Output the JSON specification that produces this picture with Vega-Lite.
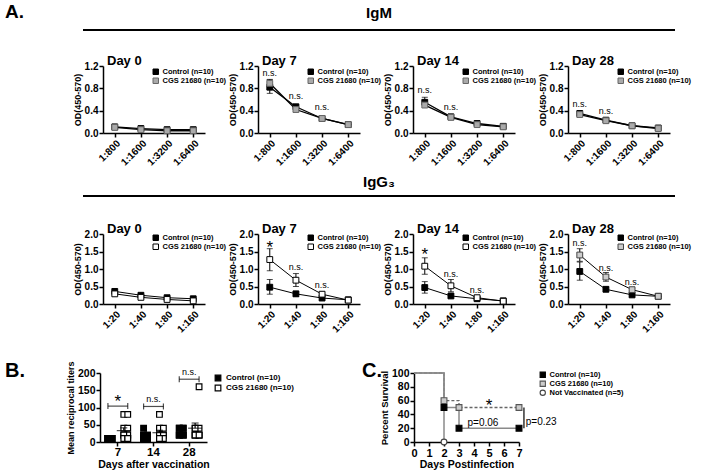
{
  "$schema": "https://vega.github.io/schema/vega-lite/v6.json",
  "background": "white",
  "padding": {"left": 5, "top": 3, "right": 5, "bottom": 5},
  "config": {
    "font": "Liberation Sans",
    "view": {"stroke": null},
    "point": {"opacity": 1},
    "title": {"font": "Liberation Sans", "fontWeight": "bold", "color": "black"},
    "axis": {"domainColor": "black", "domainWidth": 1.5, "tickColor": "black", "tickWidth": 1.5, "tickSize": 4, "labelColor": "black", "labelFont": "Liberation Sans", "labelFontWeight": "bold", "labelFontSize": 10, "labelPadding": 1, "titleFont": "Liberation Sans", "titleFontSize": 9, "titleFontWeight": "bold", "titleColor": "black", "titlePadding": 2, "grid": false, "labelFlush": false, "labelOverlap": false},
    "legend": {"labelFont": "Liberation Sans", "labelColor": "black", "labelFontWeight": "bold", "title": null}
  },
  "datasets": {
    "igm": [
      {"day": "Day 0", "dil": "1:800", "grp": "Control (n=10)", "od": 0.11, "lo": 0.11, "hi": 0.11},
      {"day": "Day 0", "dil": "1:1600", "grp": "Control (n=10)", "od": 0.08, "lo": 0.08, "hi": 0.08},
      {"day": "Day 0", "dil": "1:3200", "grp": "Control (n=10)", "od": 0.06, "lo": 0.06, "hi": 0.06},
      {"day": "Day 0", "dil": "1:6400", "grp": "Control (n=10)", "od": 0.06, "lo": 0.06, "hi": 0.06},
      {"day": "Day 0", "dil": "1:800", "grp": "CGS 21680 (n=10)", "od": 0.10, "lo": 0.10, "hi": 0.10},
      {"day": "Day 0", "dil": "1:1600", "grp": "CGS 21680 (n=10)", "od": 0.06, "lo": 0.06, "hi": 0.06},
      {"day": "Day 0", "dil": "1:3200", "grp": "CGS 21680 (n=10)", "od": 0.04, "lo": 0.04, "hi": 0.04},
      {"day": "Day 0", "dil": "1:6400", "grp": "CGS 21680 (n=10)", "od": 0.04, "lo": 0.04, "hi": 0.04},
      {"day": "Day 7", "dil": "1:800", "grp": "Control (n=10)", "od": 0.82, "lo": 0.71, "hi": 0.95},
      {"day": "Day 7", "dil": "1:1600", "grp": "Control (n=10)", "od": 0.47, "lo": 0.43, "hi": 0.51},
      {"day": "Day 7", "dil": "1:3200", "grp": "Control (n=10)", "od": 0.26, "lo": 0.24, "hi": 0.28},
      {"day": "Day 7", "dil": "1:6400", "grp": "Control (n=10)", "od": 0.15, "lo": 0.15, "hi": 0.15},
      {"day": "Day 7", "dil": "1:800", "grp": "CGS 21680 (n=10)", "od": 0.89, "lo": 0.83, "hi": 0.96},
      {"day": "Day 7", "dil": "1:1600", "grp": "CGS 21680 (n=10)", "od": 0.42, "lo": 0.39, "hi": 0.45},
      {"day": "Day 7", "dil": "1:3200", "grp": "CGS 21680 (n=10)", "od": 0.26, "lo": 0.26, "hi": 0.26},
      {"day": "Day 7", "dil": "1:6400", "grp": "CGS 21680 (n=10)", "od": 0.15, "lo": 0.15, "hi": 0.15},
      {"day": "Day 14", "dil": "1:800", "grp": "Control (n=10)", "od": 0.55, "lo": 0.48, "hi": 0.64},
      {"day": "Day 14", "dil": "1:1600", "grp": "Control (n=10)", "od": 0.29, "lo": 0.27, "hi": 0.31},
      {"day": "Day 14", "dil": "1:3200", "grp": "Control (n=10)", "od": 0.17, "lo": 0.16, "hi": 0.18},
      {"day": "Day 14", "dil": "1:6400", "grp": "Control (n=10)", "od": 0.12, "lo": 0.12, "hi": 0.12},
      {"day": "Day 14", "dil": "1:800", "grp": "CGS 21680 (n=10)", "od": 0.50, "lo": 0.46, "hi": 0.54},
      {"day": "Day 14", "dil": "1:1600", "grp": "CGS 21680 (n=10)", "od": 0.28, "lo": 0.28, "hi": 0.28},
      {"day": "Day 14", "dil": "1:3200", "grp": "CGS 21680 (n=10)", "od": 0.15, "lo": 0.15, "hi": 0.15},
      {"day": "Day 14", "dil": "1:6400", "grp": "CGS 21680 (n=10)", "od": 0.11, "lo": 0.11, "hi": 0.11},
      {"day": "Day 28", "dil": "1:800", "grp": "Control (n=10)", "od": 0.35, "lo": 0.31, "hi": 0.39},
      {"day": "Day 28", "dil": "1:1600", "grp": "Control (n=10)", "od": 0.23, "lo": 0.21, "hi": 0.25},
      {"day": "Day 28", "dil": "1:3200", "grp": "Control (n=10)", "od": 0.13, "lo": 0.13, "hi": 0.13},
      {"day": "Day 28", "dil": "1:6400", "grp": "Control (n=10)", "od": 0.09, "lo": 0.09, "hi": 0.09},
      {"day": "Day 28", "dil": "1:800", "grp": "CGS 21680 (n=10)", "od": 0.33, "lo": 0.30, "hi": 0.36},
      {"day": "Day 28", "dil": "1:1600", "grp": "CGS 21680 (n=10)", "od": 0.22, "lo": 0.22, "hi": 0.22},
      {"day": "Day 28", "dil": "1:3200", "grp": "CGS 21680 (n=10)", "od": 0.13, "lo": 0.13, "hi": 0.13},
      {"day": "Day 28", "dil": "1:6400", "grp": "CGS 21680 (n=10)", "od": 0.08, "lo": 0.08, "hi": 0.08}
    ],
    "igg": [
      {"day": "Day 0", "dil": "1:20", "grp": "Control (n=10)", "od": 0.36, "lo": 0.33, "hi": 0.39},
      {"day": "Day 0", "dil": "1:40", "grp": "Control (n=10)", "od": 0.25, "lo": 0.23, "hi": 0.27},
      {"day": "Day 0", "dil": "1:80", "grp": "Control (n=10)", "od": 0.18, "lo": 0.17, "hi": 0.19},
      {"day": "Day 0", "dil": "1:160", "grp": "Control (n=10)", "od": 0.15, "lo": 0.15, "hi": 0.15},
      {"day": "Day 0", "dil": "1:20", "grp": "CGS 21680 (n=10)", "od": 0.29, "lo": 0.27, "hi": 0.31},
      {"day": "Day 0", "dil": "1:40", "grp": "CGS 21680 (n=10)", "od": 0.19, "lo": 0.18, "hi": 0.20},
      {"day": "Day 0", "dil": "1:80", "grp": "CGS 21680 (n=10)", "od": 0.13, "lo": 0.13, "hi": 0.13},
      {"day": "Day 0", "dil": "1:160", "grp": "CGS 21680 (n=10)", "od": 0.09, "lo": 0.09, "hi": 0.09},
      {"day": "Day 7", "dil": "1:20", "grp": "Control (n=10)", "od": 0.48, "lo": 0.28, "hi": 0.70},
      {"day": "Day 7", "dil": "1:40", "grp": "Control (n=10)", "od": 0.29, "lo": 0.22, "hi": 0.36},
      {"day": "Day 7", "dil": "1:80", "grp": "Control (n=10)", "od": 0.17, "lo": 0.14, "hi": 0.20},
      {"day": "Day 7", "dil": "1:160", "grp": "Control (n=10)", "od": 0.12, "lo": 0.12, "hi": 0.12},
      {"day": "Day 7", "dil": "1:20", "grp": "CGS 21680 (n=10)", "od": 1.27, "lo": 0.95, "hi": 1.58},
      {"day": "Day 7", "dil": "1:40", "grp": "CGS 21680 (n=10)", "od": 0.68, "lo": 0.50, "hi": 0.87},
      {"day": "Day 7", "dil": "1:80", "grp": "CGS 21680 (n=10)", "od": 0.28, "lo": 0.25, "hi": 0.31},
      {"day": "Day 7", "dil": "1:160", "grp": "CGS 21680 (n=10)", "od": 0.11, "lo": 0.11, "hi": 0.11},
      {"day": "Day 14", "dil": "1:20", "grp": "Control (n=10)", "od": 0.47, "lo": 0.31, "hi": 0.64},
      {"day": "Day 14", "dil": "1:40", "grp": "Control (n=10)", "od": 0.23, "lo": 0.20, "hi": 0.26},
      {"day": "Day 14", "dil": "1:80", "grp": "Control (n=10)", "od": 0.15, "lo": 0.14, "hi": 0.16},
      {"day": "Day 14", "dil": "1:160", "grp": "Control (n=10)", "od": 0.09, "lo": 0.09, "hi": 0.09},
      {"day": "Day 14", "dil": "1:20", "grp": "CGS 21680 (n=10)", "od": 1.08, "lo": 0.85, "hi": 1.32},
      {"day": "Day 14", "dil": "1:40", "grp": "CGS 21680 (n=10)", "od": 0.52, "lo": 0.35, "hi": 0.70},
      {"day": "Day 14", "dil": "1:80", "grp": "CGS 21680 (n=10)", "od": 0.18, "lo": 0.15, "hi": 0.21},
      {"day": "Day 14", "dil": "1:160", "grp": "CGS 21680 (n=10)", "od": 0.08, "lo": 0.08, "hi": 0.08},
      {"day": "Day 28", "dil": "1:20", "grp": "Control (n=10)", "od": 0.93, "lo": 0.68, "hi": 1.20},
      {"day": "Day 28", "dil": "1:40", "grp": "Control (n=10)", "od": 0.42, "lo": 0.36, "hi": 0.48},
      {"day": "Day 28", "dil": "1:80", "grp": "Control (n=10)", "od": 0.26, "lo": 0.23, "hi": 0.29},
      {"day": "Day 28", "dil": "1:160", "grp": "Control (n=10)", "od": 0.22, "lo": 0.22, "hi": 0.22},
      {"day": "Day 28", "dil": "1:20", "grp": "CGS 21680 (n=10)", "od": 1.40, "lo": 1.22, "hi": 1.58},
      {"day": "Day 28", "dil": "1:40", "grp": "CGS 21680 (n=10)", "od": 0.77, "lo": 0.65, "hi": 0.90},
      {"day": "Day 28", "dil": "1:80", "grp": "CGS 21680 (n=10)", "od": 0.41, "lo": 0.37, "hi": 0.45},
      {"day": "Day 28", "dil": "1:160", "grp": "CGS 21680 (n=10)", "od": 0.22, "lo": 0.22, "hi": 0.22}
    ],
    "ann": [
      {"ab": "IgM", "day": "Day 7", "dil": "1:800", "od": 1.07, "label": "n.s."},
      {"ab": "IgM", "day": "Day 7", "dil": "1:1600", "od": 0.66, "label": "n.s."},
      {"ab": "IgM", "day": "Day 7", "dil": "1:3200", "od": 0.46, "label": "n.s."},
      {"ab": "IgM", "day": "Day 14", "dil": "1:800", "od": 0.77, "label": "n.s."},
      {"ab": "IgM", "day": "Day 14", "dil": "1:1600", "od": 0.47, "label": "n.s."},
      {"ab": "IgM", "day": "Day 28", "dil": "1:800", "od": 0.52, "label": "n.s."},
      {"ab": "IgM", "day": "Day 28", "dil": "1:1600", "od": 0.40, "label": "n.s."},
      {"ab": "IgG", "day": "Day 7", "dil": "1:20", "od": 1.72, "label": "*"},
      {"ab": "IgG", "day": "Day 7", "dil": "1:40", "od": 1.05, "label": "n.s."},
      {"ab": "IgG", "day": "Day 7", "dil": "1:80", "od": 0.53, "label": "n.s."},
      {"ab": "IgG", "day": "Day 14", "dil": "1:20", "od": 1.52, "label": "*"},
      {"ab": "IgG", "day": "Day 14", "dil": "1:40", "od": 0.86, "label": "n.s."},
      {"ab": "IgG", "day": "Day 14", "dil": "1:80", "od": 0.41, "label": "n.s."},
      {"ab": "IgG", "day": "Day 28", "dil": "1:20", "od": 1.73, "label": "n.s."},
      {"ab": "IgG", "day": "Day 28", "dil": "1:40", "od": 1.02, "label": "n.s."},
      {"ab": "IgG", "day": "Day 28", "dil": "1:80", "od": 0.62, "label": "n.s."}
    ],
    "titers": [
      {"day": "7", "grp": "Control (n=10)", "slot": "c2", "v": 10},
      {"day": "7", "grp": "Control (n=10)", "slot": "c3", "v": 10},
      {"day": "7", "grp": "Control (n=10)", "slot": "c2", "v": 10},
      {"day": "7", "grp": "Control (n=10)", "slot": "c3", "v": 10},
      {"day": "7", "grp": "Control (n=10)", "slot": "c2", "v": 10},
      {"day": "7", "grp": "Control (n=10)", "slot": "c3", "v": 10},
      {"day": "7", "grp": "Control (n=10)", "slot": "c2", "v": 10},
      {"day": "7", "grp": "Control (n=10)", "slot": "c3", "v": 10},
      {"day": "7", "grp": "Control (n=10)", "slot": "c2", "v": 10},
      {"day": "7", "grp": "Control (n=10)", "slot": "c3", "v": 10},
      {"day": "7", "grp": "CGS 21680 (n=10)", "slot": "g2", "v": 80},
      {"day": "7", "grp": "CGS 21680 (n=10)", "slot": "g3", "v": 80},
      {"day": "7", "grp": "CGS 21680 (n=10)", "slot": "g2", "v": 40},
      {"day": "7", "grp": "CGS 21680 (n=10)", "slot": "g3", "v": 40},
      {"day": "7", "grp": "CGS 21680 (n=10)", "slot": "g2", "v": 20},
      {"day": "7", "grp": "CGS 21680 (n=10)", "slot": "g3", "v": 20},
      {"day": "7", "grp": "CGS 21680 (n=10)", "slot": "g2", "v": 20},
      {"day": "7", "grp": "CGS 21680 (n=10)", "slot": "g2", "v": 10},
      {"day": "7", "grp": "CGS 21680 (n=10)", "slot": "g3", "v": 10},
      {"day": "7", "grp": "CGS 21680 (n=10)", "slot": "g3", "v": 10},
      {"day": "14", "grp": "Control (n=10)", "slot": "c2", "v": 40},
      {"day": "14", "grp": "Control (n=10)", "slot": "c2", "v": 20},
      {"day": "14", "grp": "Control (n=10)", "slot": "c3", "v": 20},
      {"day": "14", "grp": "Control (n=10)", "slot": "c2", "v": 20},
      {"day": "14", "grp": "Control (n=10)", "slot": "c3", "v": 20},
      {"day": "14", "grp": "Control (n=10)", "slot": "c2", "v": 10},
      {"day": "14", "grp": "Control (n=10)", "slot": "c3", "v": 10},
      {"day": "14", "grp": "Control (n=10)", "slot": "c2", "v": 10},
      {"day": "14", "grp": "Control (n=10)", "slot": "c3", "v": 10},
      {"day": "14", "grp": "Control (n=10)", "slot": "c2", "v": 10},
      {"day": "14", "grp": "CGS 21680 (n=10)", "slot": "g2", "v": 80},
      {"day": "14", "grp": "CGS 21680 (n=10)", "slot": "g2", "v": 40},
      {"day": "14", "grp": "CGS 21680 (n=10)", "slot": "g3", "v": 40},
      {"day": "14", "grp": "CGS 21680 (n=10)", "slot": "g2", "v": 20},
      {"day": "14", "grp": "CGS 21680 (n=10)", "slot": "g3", "v": 20},
      {"day": "14", "grp": "CGS 21680 (n=10)", "slot": "g2", "v": 20},
      {"day": "14", "grp": "CGS 21680 (n=10)", "slot": "g3", "v": 20},
      {"day": "14", "grp": "CGS 21680 (n=10)", "slot": "g2", "v": 10},
      {"day": "14", "grp": "CGS 21680 (n=10)", "slot": "g3", "v": 10},
      {"day": "14", "grp": "CGS 21680 (n=10)", "slot": "g2", "v": 10},
      {"day": "28", "grp": "Control (n=10)", "slot": "c2", "v": 40},
      {"day": "28", "grp": "Control (n=10)", "slot": "c3", "v": 40},
      {"day": "28", "grp": "Control (n=10)", "slot": "c2", "v": 40},
      {"day": "28", "grp": "Control (n=10)", "slot": "c3", "v": 40},
      {"day": "28", "grp": "Control (n=10)", "slot": "c2", "v": 20},
      {"day": "28", "grp": "Control (n=10)", "slot": "c3", "v": 20},
      {"day": "28", "grp": "Control (n=10)", "slot": "c2", "v": 20},
      {"day": "28", "grp": "Control (n=10)", "slot": "c3", "v": 20},
      {"day": "28", "grp": "Control (n=10)", "slot": "c2", "v": 20},
      {"day": "28", "grp": "Control (n=10)", "slot": "c3", "v": 20},
      {"day": "28", "grp": "CGS 21680 (n=10)", "slot": "g3", "v": 160},
      {"day": "28", "grp": "CGS 21680 (n=10)", "slot": "g2", "v": 40},
      {"day": "28", "grp": "CGS 21680 (n=10)", "slot": "g3", "v": 40},
      {"day": "28", "grp": "CGS 21680 (n=10)", "slot": "g2", "v": 40},
      {"day": "28", "grp": "CGS 21680 (n=10)", "slot": "g2", "v": 20},
      {"day": "28", "grp": "CGS 21680 (n=10)", "slot": "g3", "v": 20},
      {"day": "28", "grp": "CGS 21680 (n=10)", "slot": "g2", "v": 20},
      {"day": "28", "grp": "CGS 21680 (n=10)", "slot": "g3", "v": 20},
      {"day": "28", "grp": "CGS 21680 (n=10)", "slot": "g2", "v": 20},
      {"day": "28", "grp": "CGS 21680 (n=10)", "slot": "g3", "v": 20}
    ],
    "tstats": [
      {"day": "7", "slot": "g2", "mean": 33, "hi": 41},
      {"day": "14", "slot": "g2", "mean": 27, "hi": 34},
      {"day": "28", "slot": "g2", "mean": 40, "hi": 55}
    ],
    "tbr": [
      {"day": "7", "y": 104, "ty": 128, "label": "*"},
      {"day": "14", "y": 103, "ty": 117, "label": "n.s."},
      {"day": "28", "y": 182, "ty": 195, "label": "n.s."}
    ],
    "tcaps": [
      {"day": "7", "y": 104, "slot": "c2"},
      {"day": "7", "y": 104, "slot": "g3"},
      {"day": "14", "y": 103, "slot": "c2"},
      {"day": "14", "y": 103, "slot": "g3"},
      {"day": "28", "y": 182, "slot": "c2"},
      {"day": "28", "y": 182, "slot": "g3"}
    ],
    "surv": [
      {"grp": "Control (n=10)", "d": 0, "pct": 100},
      {"grp": "Control (n=10)", "d": 2, "pct": 50},
      {"grp": "Control (n=10)", "d": 3, "pct": 20},
      {"grp": "Control (n=10)", "d": 7, "pct": 20},
      {"grp": "CGS 21680 (n=10)", "d": 0, "pct": 100},
      {"grp": "CGS 21680 (n=10)", "d": 2, "pct": 60},
      {"grp": "CGS 21680 (n=10)", "d": 3, "pct": 50},
      {"grp": "CGS 21680 (n=10)", "d": 7, "pct": 50},
      {"grp": "Not Vaccinated (n=5)", "d": 0, "pct": 100},
      {"grp": "Not Vaccinated (n=5)", "d": 2, "pct": 0}
    ],
    "survpts": [
      {"grp": "Control (n=10)", "d": 2, "pct": 50},
      {"grp": "Control (n=10)", "d": 3, "pct": 20},
      {"grp": "Control (n=10)", "d": 7, "pct": 20},
      {"grp": "CGS 21680 (n=10)", "d": 2, "pct": 60},
      {"grp": "CGS 21680 (n=10)", "d": 3, "pct": 50},
      {"grp": "CGS 21680 (n=10)", "d": 7, "pct": 50},
      {"grp": "Not Vaccinated (n=5)", "d": 2, "pct": 0}
    ],
    "sann": [
      {"d": 5, "pct": 58, "label": "*"},
      {"d": 4.6, "pct": 28, "label": "p=0.06"},
      {"d": 7.45, "pct": 29, "label": "p=0.23"}
    ],
    "sbr": [
      {"d": 7.33, "lo": 20, "hi": 50}
    ]
  },
  "spacing": 3,
  "resolve": {"scale": {"fill": "independent", "stroke": "independent", "shape": "independent"}, "legend": {"fill": "independent", "stroke": "independent", "shape": "independent"}},
  "vconcat": [
    {
      "spacing": 0, "bounds": "flush",
      "hconcat": [
        {"width": 78, "height": 22, "title": {"text": "A.", "anchor": "start", "frame": "group", "fontSize": 19, "baseline": "alphabetic", "offset": -7}, "data": {"values": []}, "mark": "point"},
        {"width": 592, "height": 22, "title": {"text": "IgM", "anchor": "middle", "fontSize": 15, "baseline": "alphabetic", "offset": -4}, "data": {"values": [{"k": 1}]}, "mark": {"type": "rule", "color": "black", "strokeWidth": 2}, "encoding": {"y": {"datum": 1, "type": "quantitative", "scale": {"domain": [0, 1]}, "axis": null}}}
      ]
    },
    {
      "spacing": 53, "bounds": "flush",
      "resolve": {"scale": {"fill": "independent", "stroke": "independent"}, "legend": {"fill": "independent", "stroke": "independent"}},
      "hconcat": [
        {"width": 45, "height": 105.5, "data": {"values": []}, "mark": "point"},
        {
          "width": 102, "height": 67,
          "title": {"text": "Day 0", "anchor": "start", "frame": "group", "fontSize": 13, "baseline": "alphabetic", "offset": -17, "dx": 4},
          "data": {"name": "igm"},
          "transform": [{"filter": "datum.day === 'Day 0'"}],
          "encoding": {
            "x": {"field": "dil", "type": "ordinal", "sort": ["1:800", "1:1600", "1:3200", "1:6400"], "scale": {"type": "point", "padding": 0.45}, "axis": {"title": null, "labelAngle": -45}},
            "y": {"field": "od", "type": "quantitative", "title": "OD(450-570)", "scale": {"domain": [0, 1.2], "nice": false}, "axis": {"values": [0, 0.4, 0.8, 1.2], "format": ".1f"}}
          },
          "layer": [
            {"mark": {"type": "line", "strokeWidth": 1.3, "color": "black"}, "encoding": {"detail": {"field": "grp"}}},
            {"mark": {"type": "point", "shape": "square", "filled": true, "size": 34, "opacity": 1, "strokeWidth": 1}, "encoding": {
              "fill": {"field": "grp", "type": "nominal", "scale": {"domain": ["Control (n=10)", "CGS 21680 (n=10)"], "range": ["black", "#aaaaaa"]}, "legend": {"orient": "none", "legendX": 49, "legendY": 2, "labelFontSize": 7.5, "symbolSize": 30, "symbolStrokeWidth": 1, "rowPadding": -1, "labelOffset": 3}},
              "stroke": {"field": "grp", "type": "nominal", "scale": {"domain": ["Control (n=10)", "CGS 21680 (n=10)"], "range": ["black", "#666666"]}, "legend": {"orient": "none", "legendX": 49, "legendY": 2, "labelFontSize": 7.5, "symbolSize": 30, "symbolStrokeWidth": 1, "rowPadding": -1, "labelOffset": 3}}
            }}
          ]
        },
        {
          "width": 102, "height": 67,
          "title": {"text": "Day 7", "anchor": "start", "frame": "group", "fontSize": 13, "baseline": "alphabetic", "offset": -17, "dx": 4},
          "data": {"name": "igm"},
          "transform": [{"filter": "datum.day === 'Day 7'"}],
          "encoding": {
            "x": {"field": "dil", "type": "ordinal", "sort": ["1:800", "1:1600", "1:3200", "1:6400"], "scale": {"type": "point", "padding": 0.45}, "axis": {"title": null, "labelAngle": -45}},
            "y": {"field": "od", "type": "quantitative", "title": "OD(450-570)", "scale": {"domain": [0, 1.2], "nice": false}, "axis": {"values": [0, 0.4, 0.8, 1.2], "format": ".1f"}}
          },
          "layer": [
            {"mark": {"type": "rule", "color": "black", "strokeWidth": 1}, "encoding": {"y": {"field": "lo", "type": "quantitative", "title": "OD(450-570)", "scale": {"domain": [0, 1.2], "nice": false}, "axis": {"values": [0, 0.4, 0.8, 1.2], "format": ".1f"}}, "y2": {"field": "hi"}}},
            {"mark": {"type": "tick", "color": "black", "thickness": 1, "size": 6}, "encoding": {"y": {"field": "hi", "type": "quantitative", "title": "OD(450-570)", "scale": {"domain": [0, 1.2], "nice": false}, "axis": {"values": [0, 0.4, 0.8, 1.2], "format": ".1f"}}}},
            {"mark": {"type": "tick", "color": "black", "thickness": 1, "size": 6}, "encoding": {"y": {"field": "lo", "type": "quantitative", "title": "OD(450-570)", "scale": {"domain": [0, 1.2], "nice": false}, "axis": {"values": [0, 0.4, 0.8, 1.2], "format": ".1f"}}}},
            {"mark": {"type": "line", "strokeWidth": 1.3, "color": "black"}, "encoding": {"detail": {"field": "grp"}}},
            {"mark": {"type": "point", "shape": "square", "filled": true, "size": 34, "opacity": 1, "strokeWidth": 1}, "encoding": {
              "fill": {"field": "grp", "type": "nominal", "scale": {"domain": ["Control (n=10)", "CGS 21680 (n=10)"], "range": ["black", "#aaaaaa"]}, "legend": {"orient": "none", "legendX": 49, "legendY": 2, "labelFontSize": 7.5, "symbolSize": 30, "symbolStrokeWidth": 1, "rowPadding": -1, "labelOffset": 3}},
              "stroke": {"field": "grp", "type": "nominal", "scale": {"domain": ["Control (n=10)", "CGS 21680 (n=10)"], "range": ["black", "#666666"]}, "legend": {"orient": "none", "legendX": 49, "legendY": 2, "labelFontSize": 7.5, "symbolSize": 30, "symbolStrokeWidth": 1, "rowPadding": -1, "labelOffset": 3}}
            }},
            {"data": {"name": "ann"}, "transform": [{"filter": "datum.ab === 'IgM' && datum.day === 'Day 7'"}], "mark": {"type": "text", "font": "Liberation Sans", "baseline": "middle", "color": "black", "fontSize": 9}, "encoding": {"text": {"field": "label"}}}
          ]
        },
        {
          "width": 102, "height": 67,
          "title": {"text": "Day 14", "anchor": "start", "frame": "group", "fontSize": 13, "baseline": "alphabetic", "offset": -17, "dx": 4},
          "data": {"name": "igm"},
          "transform": [{"filter": "datum.day === 'Day 14'"}],
          "encoding": {
            "x": {"field": "dil", "type": "ordinal", "sort": ["1:800", "1:1600", "1:3200", "1:6400"], "scale": {"type": "point", "padding": 0.45}, "axis": {"title": null, "labelAngle": -45}},
            "y": {"field": "od", "type": "quantitative", "title": "OD(450-570)", "scale": {"domain": [0, 1.2], "nice": false}, "axis": {"values": [0, 0.4, 0.8, 1.2], "format": ".1f"}}
          },
          "layer": [
            {"mark": {"type": "rule", "color": "black", "strokeWidth": 1}, "encoding": {"y": {"field": "lo", "type": "quantitative", "title": "OD(450-570)", "scale": {"domain": [0, 1.2], "nice": false}, "axis": {"values": [0, 0.4, 0.8, 1.2], "format": ".1f"}}, "y2": {"field": "hi"}}},
            {"mark": {"type": "tick", "color": "black", "thickness": 1, "size": 6}, "encoding": {"y": {"field": "hi", "type": "quantitative", "title": "OD(450-570)", "scale": {"domain": [0, 1.2], "nice": false}, "axis": {"values": [0, 0.4, 0.8, 1.2], "format": ".1f"}}}},
            {"mark": {"type": "line", "strokeWidth": 1.3, "color": "black"}, "encoding": {"detail": {"field": "grp"}}},
            {"mark": {"type": "point", "shape": "square", "filled": true, "size": 34, "opacity": 1, "strokeWidth": 1}, "encoding": {
              "fill": {"field": "grp", "type": "nominal", "scale": {"domain": ["Control (n=10)", "CGS 21680 (n=10)"], "range": ["black", "#aaaaaa"]}, "legend": {"orient": "none", "legendX": 49, "legendY": 2, "labelFontSize": 7.5, "symbolSize": 30, "symbolStrokeWidth": 1, "rowPadding": -1, "labelOffset": 3}},
              "stroke": {"field": "grp", "type": "nominal", "scale": {"domain": ["Control (n=10)", "CGS 21680 (n=10)"], "range": ["black", "#666666"]}, "legend": {"orient": "none", "legendX": 49, "legendY": 2, "labelFontSize": 7.5, "symbolSize": 30, "symbolStrokeWidth": 1, "rowPadding": -1, "labelOffset": 3}}
            }},
            {"data": {"name": "ann"}, "transform": [{"filter": "datum.ab === 'IgM' && datum.day === 'Day 14'"}], "mark": {"type": "text", "font": "Liberation Sans", "baseline": "middle", "color": "black", "fontSize": 9}, "encoding": {"text": {"field": "label"}}}
          ]
        },
        {
          "width": 102, "height": 67,
          "title": {"text": "Day 28", "anchor": "start", "frame": "group", "fontSize": 13, "baseline": "alphabetic", "offset": -17, "dx": 4},
          "data": {"name": "igm"},
          "transform": [{"filter": "datum.day === 'Day 28'"}],
          "encoding": {
            "x": {"field": "dil", "type": "ordinal", "sort": ["1:800", "1:1600", "1:3200", "1:6400"], "scale": {"type": "point", "padding": 0.45}, "axis": {"title": null, "labelAngle": -45}},
            "y": {"field": "od", "type": "quantitative", "title": "OD(450-570)", "scale": {"domain": [0, 1.2], "nice": false}, "axis": {"values": [0, 0.4, 0.8, 1.2], "format": ".1f"}}
          },
          "layer": [
            {"mark": {"type": "rule", "color": "black", "strokeWidth": 1}, "encoding": {"y": {"field": "lo", "type": "quantitative", "title": "OD(450-570)", "scale": {"domain": [0, 1.2], "nice": false}, "axis": {"values": [0, 0.4, 0.8, 1.2], "format": ".1f"}}, "y2": {"field": "hi"}}},
            {"mark": {"type": "line", "strokeWidth": 1.3, "color": "black"}, "encoding": {"detail": {"field": "grp"}}},
            {"mark": {"type": "point", "shape": "square", "filled": true, "size": 34, "opacity": 1, "strokeWidth": 1}, "encoding": {
              "fill": {"field": "grp", "type": "nominal", "scale": {"domain": ["Control (n=10)", "CGS 21680 (n=10)"], "range": ["black", "#aaaaaa"]}, "legend": {"orient": "none", "legendX": 49, "legendY": 2, "labelFontSize": 7.5, "symbolSize": 30, "symbolStrokeWidth": 1, "rowPadding": -1, "labelOffset": 3}},
              "stroke": {"field": "grp", "type": "nominal", "scale": {"domain": ["Control (n=10)", "CGS 21680 (n=10)"], "range": ["black", "#666666"]}, "legend": {"orient": "none", "legendX": 49, "legendY": 2, "labelFontSize": 7.5, "symbolSize": 30, "symbolStrokeWidth": 1, "rowPadding": -1, "labelOffset": 3}}
            }},
            {"data": {"name": "ann"}, "transform": [{"filter": "datum.ab === 'IgM' && datum.day === 'Day 28'"}], "mark": {"type": "text", "font": "Liberation Sans", "baseline": "middle", "color": "black", "fontSize": 9}, "encoding": {"text": {"field": "label"}}}
          ]
        }
      ]
    },
    {
      "spacing": 0, "bounds": "flush",
      "hconcat": [
        {"width": 78, "height": 23.5, "data": {"values": []}, "mark": "point"},
        {"width": 592, "height": 23.5, "title": {"text": "IgG₃", "anchor": "middle", "fontSize": 15, "baseline": "alphabetic", "offset": -7}, "data": {"values": [{"k": 1}]}, "mark": {"type": "rule", "color": "black", "strokeWidth": 2}, "encoding": {"y": {"datum": 1, "type": "quantitative", "scale": {"domain": [0, 1]}, "axis": null}}}
      ]
    },
    {
      "spacing": 53, "bounds": "flush",
      "resolve": {"scale": {"fill": "independent", "stroke": "independent"}, "legend": {"fill": "independent", "stroke": "independent"}},
      "hconcat": [
        {"width": 45, "height": 123, "data": {"values": []}, "mark": "point"},
        {
          "width": 102, "height": 70,
          "title": {"text": "Day 0", "anchor": "start", "frame": "group", "fontSize": 13, "baseline": "alphabetic", "offset": -17, "dx": 4},
          "data": {"name": "igg"},
          "transform": [{"filter": "datum.day === 'Day 0'"}],
          "encoding": {
            "x": {"field": "dil", "type": "ordinal", "sort": ["1:20", "1:40", "1:80", "1:160"], "scale": {"type": "point", "padding": 0.45}, "axis": {"title": null, "labelAngle": -45}},
            "y": {"field": "od", "type": "quantitative", "title": "OD(450-570)", "scale": {"domain": [0, 2], "nice": false}, "axis": {"values": [0, 0.5, 1, 1.5, 2], "format": ".1f"}}
          },
          "layer": [
            {"mark": {"type": "line", "strokeWidth": 1, "color": "black"}, "encoding": {"detail": {"field": "grp"}}},
            {"mark": {"type": "point", "shape": "square", "filled": true, "size": 34, "opacity": 1, "strokeWidth": 1}, "encoding": {
              "fill": {"field": "grp", "type": "nominal", "scale": {"domain": ["Control (n=10)", "CGS 21680 (n=10)"], "range": ["black", "white"]}, "legend": {"orient": "none", "legendX": 49, "legendY": 0, "labelFontSize": 7.5, "symbolSize": 30, "symbolStrokeWidth": 1, "rowPadding": -1, "labelOffset": 3}},
              "stroke": {"field": "grp", "type": "nominal", "scale": {"domain": ["Control (n=10)", "CGS 21680 (n=10)"], "range": ["black", "black"]}, "legend": {"orient": "none", "legendX": 49, "legendY": 0, "labelFontSize": 7.5, "symbolSize": 30, "symbolStrokeWidth": 1, "rowPadding": -1, "labelOffset": 3}}
            }}
          ]
        },
        {
          "width": 102, "height": 70,
          "title": {"text": "Day 7", "anchor": "start", "frame": "group", "fontSize": 13, "baseline": "alphabetic", "offset": -17, "dx": 4},
          "data": {"name": "igg"},
          "transform": [{"filter": "datum.day === 'Day 7'"}],
          "encoding": {
            "x": {"field": "dil", "type": "ordinal", "sort": ["1:20", "1:40", "1:80", "1:160"], "scale": {"type": "point", "padding": 0.45}, "axis": {"title": null, "labelAngle": -45}},
            "y": {"field": "od", "type": "quantitative", "title": "OD(450-570)", "scale": {"domain": [0, 2], "nice": false}, "axis": {"values": [0, 0.5, 1, 1.5, 2], "format": ".1f"}}
          },
          "layer": [
            {"mark": {"type": "rule", "color": "black", "strokeWidth": 1}, "encoding": {"y": {"field": "lo", "type": "quantitative", "title": "OD(450-570)", "scale": {"domain": [0, 2], "nice": false}, "axis": {"values": [0, 0.5, 1, 1.5, 2], "format": ".1f"}}, "y2": {"field": "hi"}}},
            {"mark": {"type": "tick", "color": "black", "thickness": 1, "size": 6}, "encoding": {"y": {"field": "hi", "type": "quantitative", "title": "OD(450-570)", "scale": {"domain": [0, 2], "nice": false}, "axis": {"values": [0, 0.5, 1, 1.5, 2], "format": ".1f"}}}},
            {"mark": {"type": "tick", "color": "black", "thickness": 1, "size": 6}, "encoding": {"y": {"field": "lo", "type": "quantitative", "title": "OD(450-570)", "scale": {"domain": [0, 2], "nice": false}, "axis": {"values": [0, 0.5, 1, 1.5, 2], "format": ".1f"}}}},
            {"mark": {"type": "line", "strokeWidth": 1, "color": "black"}, "encoding": {"detail": {"field": "grp"}}},
            {"mark": {"type": "point", "shape": "square", "filled": true, "size": 34, "opacity": 1, "strokeWidth": 1}, "encoding": {
              "fill": {"field": "grp", "type": "nominal", "scale": {"domain": ["Control (n=10)", "CGS 21680 (n=10)"], "range": ["black", "white"]}, "legend": {"orient": "none", "legendX": 49, "legendY": 0, "labelFontSize": 7.5, "symbolSize": 30, "symbolStrokeWidth": 1, "rowPadding": -1, "labelOffset": 3}},
              "stroke": {"field": "grp", "type": "nominal", "scale": {"domain": ["Control (n=10)", "CGS 21680 (n=10)"], "range": ["black", "black"]}, "legend": {"orient": "none", "legendX": 49, "legendY": 0, "labelFontSize": 7.5, "symbolSize": 30, "symbolStrokeWidth": 1, "rowPadding": -1, "labelOffset": 3}}
            }},
            {"data": {"name": "ann"}, "transform": [{"filter": "datum.ab === 'IgG' && datum.day === 'Day 7'"}], "mark": {"type": "text", "font": "Liberation Sans", "baseline": "middle", "color": "black", "fontSize": {"expr": "datum.label === '*' ? 17 : 9"}, "dy": {"expr": "datum.label === '*' ? 4 : 0"}}, "encoding": {"text": {"field": "label"}}}
          ]
        },
        {
          "width": 102, "height": 70,
          "title": {"text": "Day 14", "anchor": "start", "frame": "group", "fontSize": 13, "baseline": "alphabetic", "offset": -17, "dx": 4},
          "data": {"name": "igg"},
          "transform": [{"filter": "datum.day === 'Day 14'"}],
          "encoding": {
            "x": {"field": "dil", "type": "ordinal", "sort": ["1:20", "1:40", "1:80", "1:160"], "scale": {"type": "point", "padding": 0.45}, "axis": {"title": null, "labelAngle": -45}},
            "y": {"field": "od", "type": "quantitative", "title": "OD(450-570)", "scale": {"domain": [0, 2], "nice": false}, "axis": {"values": [0, 0.5, 1, 1.5, 2], "format": ".1f"}}
          },
          "layer": [
            {"mark": {"type": "rule", "color": "black", "strokeWidth": 1}, "encoding": {"y": {"field": "lo", "type": "quantitative", "title": "OD(450-570)", "scale": {"domain": [0, 2], "nice": false}, "axis": {"values": [0, 0.5, 1, 1.5, 2], "format": ".1f"}}, "y2": {"field": "hi"}}},
            {"mark": {"type": "tick", "color": "black", "thickness": 1, "size": 6}, "encoding": {"y": {"field": "hi", "type": "quantitative", "title": "OD(450-570)", "scale": {"domain": [0, 2], "nice": false}, "axis": {"values": [0, 0.5, 1, 1.5, 2], "format": ".1f"}}}},
            {"mark": {"type": "tick", "color": "black", "thickness": 1, "size": 6}, "encoding": {"y": {"field": "lo", "type": "quantitative", "title": "OD(450-570)", "scale": {"domain": [0, 2], "nice": false}, "axis": {"values": [0, 0.5, 1, 1.5, 2], "format": ".1f"}}}},
            {"mark": {"type": "line", "strokeWidth": 1, "color": "black"}, "encoding": {"detail": {"field": "grp"}}},
            {"mark": {"type": "point", "shape": "square", "filled": true, "size": 34, "opacity": 1, "strokeWidth": 1}, "encoding": {
              "fill": {"field": "grp", "type": "nominal", "scale": {"domain": ["Control (n=10)", "CGS 21680 (n=10)"], "range": ["black", "white"]}, "legend": {"orient": "none", "legendX": 49, "legendY": 0, "labelFontSize": 7.5, "symbolSize": 30, "symbolStrokeWidth": 1, "rowPadding": -1, "labelOffset": 3}},
              "stroke": {"field": "grp", "type": "nominal", "scale": {"domain": ["Control (n=10)", "CGS 21680 (n=10)"], "range": ["black", "black"]}, "legend": {"orient": "none", "legendX": 49, "legendY": 0, "labelFontSize": 7.5, "symbolSize": 30, "symbolStrokeWidth": 1, "rowPadding": -1, "labelOffset": 3}}
            }},
            {"data": {"name": "ann"}, "transform": [{"filter": "datum.ab === 'IgG' && datum.day === 'Day 14'"}], "mark": {"type": "text", "font": "Liberation Sans", "baseline": "middle", "color": "black", "fontSize": {"expr": "datum.label === '*' ? 17 : 9"}, "dy": {"expr": "datum.label === '*' ? 4 : 0"}}, "encoding": {"text": {"field": "label"}}}
          ]
        },
        {
          "width": 102, "height": 70,
          "title": {"text": "Day 28", "anchor": "start", "frame": "group", "fontSize": 13, "baseline": "alphabetic", "offset": -17, "dx": 4},
          "data": {"name": "igg"},
          "transform": [{"filter": "datum.day === 'Day 28'"}],
          "encoding": {
            "x": {"field": "dil", "type": "ordinal", "sort": ["1:20", "1:40", "1:80", "1:160"], "scale": {"type": "point", "padding": 0.45}, "axis": {"title": null, "labelAngle": -45}},
            "y": {"field": "od", "type": "quantitative", "title": "OD(450-570)", "scale": {"domain": [0, 2], "nice": false}, "axis": {"values": [0, 0.5, 1, 1.5, 2], "format": ".1f"}}
          },
          "layer": [
            {"mark": {"type": "rule", "color": "black", "strokeWidth": 1}, "encoding": {"y": {"field": "lo", "type": "quantitative", "title": "OD(450-570)", "scale": {"domain": [0, 2], "nice": false}, "axis": {"values": [0, 0.5, 1, 1.5, 2], "format": ".1f"}}, "y2": {"field": "hi"}}},
            {"mark": {"type": "tick", "color": "black", "thickness": 1, "size": 6}, "encoding": {"y": {"field": "hi", "type": "quantitative", "title": "OD(450-570)", "scale": {"domain": [0, 2], "nice": false}, "axis": {"values": [0, 0.5, 1, 1.5, 2], "format": ".1f"}}}},
            {"mark": {"type": "tick", "color": "black", "thickness": 1, "size": 6}, "encoding": {"y": {"field": "lo", "type": "quantitative", "title": "OD(450-570)", "scale": {"domain": [0, 2], "nice": false}, "axis": {"values": [0, 0.5, 1, 1.5, 2], "format": ".1f"}}}},
            {"mark": {"type": "line", "strokeWidth": 1, "color": "black"}, "encoding": {"detail": {"field": "grp"}}},
            {"mark": {"type": "point", "shape": "square", "filled": true, "size": 34, "opacity": 1, "strokeWidth": 1}, "encoding": {
              "fill": {"field": "grp", "type": "nominal", "scale": {"domain": ["Control (n=10)", "CGS 21680 (n=10)"], "range": ["black", "#cccccc"]}, "legend": {"orient": "none", "legendX": 49, "legendY": 0, "labelFontSize": 7.5, "symbolSize": 30, "symbolStrokeWidth": 1, "rowPadding": -1, "labelOffset": 3}},
              "stroke": {"field": "grp", "type": "nominal", "scale": {"domain": ["Control (n=10)", "CGS 21680 (n=10)"], "range": ["black", "#444444"]}, "legend": {"orient": "none", "legendX": 49, "legendY": 0, "labelFontSize": 7.5, "symbolSize": 30, "symbolStrokeWidth": 1, "rowPadding": -1, "labelOffset": 3}}
            }},
            {"data": {"name": "ann"}, "transform": [{"filter": "datum.ab === 'IgG' && datum.day === 'Day 28'"}], "mark": {"type": "text", "font": "Liberation Sans", "baseline": "middle", "color": "black", "fontSize": 9}, "encoding": {"text": {"field": "label"}}}
          ]
        }
      ]
    },
    {
      "spacing": 53, "bounds": "flush",
      "resolve": {"scale": {"fill": "independent", "stroke": "independent", "shape": "independent"}, "legend": {"fill": "independent", "stroke": "independent", "shape": "independent"}},
      "hconcat": [
        {"width": 42, "height": 69, "title": {"text": "B.", "anchor": "start", "frame": "group", "fontSize": 20, "baseline": "alphabetic", "offset": -24}, "data": {"values": []}, "mark": "point"},
        {
          "width": 107, "height": 69,
          "encoding": {
            "x": {"field": "day", "type": "ordinal", "sort": ["7", "14", "28"], "scale": {"paddingInner": 0, "paddingOuter": 0}, "axis": {"title": "Days after vaccination", "labelAngle": 0, "labelFontSize": 11.5, "titleFontSize": 10.5, "titlePadding": 2, "labelPadding": 0}},
            "y": {"field": "v", "type": "quantitative", "title": "Mean reciprocal titers", "scale": {"domain": [0, 200], "nice": false}, "axis": {"values": [0, 50, 100, 150, 200], "labelFontSize": 10.5}}
          },
          "layer": [
            {"data": {"name": "titers"}, "mark": {"type": "point", "shape": "square", "filled": true, "size": 32, "opacity": 1, "strokeWidth": 1.2},
             "encoding": {
               "xOffset": {"field": "slot", "type": "nominal", "scale": {"domain": ["c1", "c2", "c3", "c4", "g1", "g2", "g3", "g4"], "paddingInner": 0, "paddingOuter": 0.5}},
               "fill": {"field": "grp", "type": "nominal", "scale": {"domain": ["Control (n=10)", "CGS 21680 (n=10)"], "range": ["black", "white"]}, "legend": {"orient": "none", "legendX": 114, "legendY": 1, "labelFontSize": 8, "symbolSize": 32, "symbolStrokeWidth": 1.2, "rowPadding": -3, "labelOffset": 4}},
               "stroke": {"field": "grp", "type": "nominal", "scale": {"domain": ["Control (n=10)", "CGS 21680 (n=10)"], "range": ["black", "black"]}, "legend": {"orient": "none", "legendX": 114, "legendY": 1, "labelFontSize": 8, "symbolSize": 32, "symbolStrokeWidth": 1.2, "rowPadding": -3, "labelOffset": 4}}
             }},
            {"data": {"name": "tstats"}, "mark": {"type": "tick", "color": "black", "thickness": 1.2, "size": 14},
             "encoding": {"xOffset": {"field": "slot", "type": "nominal"}, "y": {"field": "mean", "type": "quantitative", "title": "Mean reciprocal titers", "scale": {"domain": [0, 200], "nice": false}, "axis": {"values": [0, 50, 100, 150, 200], "labelFontSize": 10.5}}}},
            {"data": {"name": "tstats"}, "mark": {"type": "rule", "color": "black", "strokeWidth": 1.2},
             "encoding": {"xOffset": {"field": "slot", "type": "nominal"}, "y": {"field": "mean", "type": "quantitative", "title": "Mean reciprocal titers", "scale": {"domain": [0, 200], "nice": false}, "axis": {"values": [0, 50, 100, 150, 200], "labelFontSize": 10.5}}, "y2": {"field": "hi"}}},
            {"data": {"name": "tstats"}, "mark": {"type": "tick", "color": "black", "thickness": 1.2, "size": 7},
             "encoding": {"xOffset": {"field": "slot", "type": "nominal"}, "y": {"field": "hi", "type": "quantitative", "title": "Mean reciprocal titers", "scale": {"domain": [0, 200], "nice": false}, "axis": {"values": [0, 50, 100, 150, 200], "labelFontSize": 10.5}}}},
            {"data": {"name": "tbr"}, "mark": {"type": "tick", "color": "black", "thickness": 1.2, "size": 20},
             "encoding": {"y": {"field": "y", "type": "quantitative", "title": "Mean reciprocal titers", "scale": {"domain": [0, 200], "nice": false}, "axis": {"values": [0, 50, 100, 150, 200], "labelFontSize": 10.5}}}},
            {"data": {"name": "tcaps"}, "mark": {"type": "tick", "color": "black", "thickness": 1.2, "size": 6, "orient": "vertical"},
             "encoding": {"xOffset": {"field": "slot", "type": "nominal"}, "y": {"field": "y", "type": "quantitative", "title": "Mean reciprocal titers", "scale": {"domain": [0, 200], "nice": false}, "axis": {"values": [0, 50, 100, 150, 200], "labelFontSize": 10.5}}}},
            {"data": {"name": "tbr"}, "mark": {"type": "text", "font": "Liberation Sans", "baseline": "alphabetic", "color": "black", "fontSize": {"expr": "datum.label === '*' ? 17 : 9"}, "dy": {"expr": "datum.label === '*' ? 9 : 0"}},
             "encoding": {"text": {"field": "label"}, "y": {"field": "ty", "type": "quantitative", "title": "Mean reciprocal titers", "scale": {"domain": [0, 200], "nice": false}, "axis": {"values": [0, 50, 100, 150, 200], "labelFontSize": 10.5}}}}
          ]
        },
        {"width": 101, "height": 69, "title": {"text": "C.", "anchor": "start", "frame": "group", "fontSize": 20, "baseline": "alphabetic", "offset": -24, "dx": 102}, "data": {"values": []}, "mark": "point"},
        {
          "width": 105, "height": 69,
          "encoding": {
            "x": {"field": "d", "type": "quantitative", "title": "Days Postinfection", "scale": {"domain": [0, 7], "nice": false}, "axis": {"values": [0, 1, 2, 3, 4, 5, 6, 7], "format": "d", "labelFontSize": 11, "titleFontSize": 10.5, "titlePadding": 1}},
            "y": {"field": "pct", "type": "quantitative", "title": "Percent Survival", "scale": {"domain": [0, 100], "nice": false}, "axis": {"values": [0, 20, 40, 60, 80, 100], "labelFontSize": 10.5, "titleFontSize": 9.5}}
          },
          "layer": [
            {"data": {"name": "surv"}, "transform": [{"filter": "datum.grp === 'CGS 21680 (n=10)'"}], "mark": {"type": "line", "interpolate": "step-after", "strokeWidth": 1.3, "color": "#666666", "strokeDash": [3, 2]}, "encoding": {"detail": {"field": "grp"}}},
            {"data": {"name": "surv"}, "transform": [{"filter": "datum.grp !== 'CGS 21680 (n=10)'"}], "mark": {"type": "line", "interpolate": "step-after", "strokeWidth": 1.5, "color": "#8a8a8a"}, "encoding": {"detail": {"field": "grp"}}},
            {"data": {"name": "sbr"}, "mark": {"type": "rule", "color": "black", "strokeWidth": 1.2},
             "encoding": {"y": {"field": "lo", "type": "quantitative", "title": "Percent Survival", "scale": {"domain": [0, 100], "nice": false}, "axis": {"values": [0, 20, 40, 60, 80, 100], "labelFontSize": 10.5, "titleFontSize": 9.5}}, "y2": {"field": "hi"}}},
            {"data": {"name": "survpts"}, "mark": {"type": "point", "filled": true, "size": 34, "opacity": 1, "strokeWidth": 1.1},
             "encoding": {
               "shape": {"field": "grp", "type": "nominal", "scale": {"domain": ["Control (n=10)", "CGS 21680 (n=10)", "Not Vaccinated (n=5)"], "range": ["square", "square", "circle"]}, "legend": {"orient": "none", "legendX": 125, "legendY": -2, "labelFontSize": 7.5, "symbolSize": 28, "symbolStrokeWidth": 1.1, "rowPadding": -6, "labelOffset": 3}},
               "fill": {"field": "grp", "type": "nominal", "scale": {"domain": ["Control (n=10)", "CGS 21680 (n=10)", "Not Vaccinated (n=5)"], "range": ["black", "#cccccc", "white"]}, "legend": {"orient": "none", "legendX": 125, "legendY": -2, "labelFontSize": 7.5, "symbolSize": 28, "symbolStrokeWidth": 1.1, "rowPadding": -6, "labelOffset": 3}},
               "stroke": {"field": "grp", "type": "nominal", "scale": {"domain": ["Control (n=10)", "CGS 21680 (n=10)", "Not Vaccinated (n=5)"], "range": ["black", "#555555", "#444444"]}, "legend": {"orient": "none", "legendX": 125, "legendY": -2, "labelFontSize": 7.5, "symbolSize": 28, "symbolStrokeWidth": 1.1, "rowPadding": -6, "labelOffset": 3}}
             }},
            {"data": {"name": "sann"}, "mark": {"type": "text", "font": "Liberation Sans", "baseline": "middle", "color": "black", "fontSize": {"expr": "datum.label === '*' ? 17 : 10"}, "dy": {"expr": "datum.label === '*' ? 4 : 0"}, "align": {"expr": "datum.label === 'p=0.23' ? 'left' : 'center'"}},
             "encoding": {"text": {"field": "label"}}}
          ]
        }
      ]
    }
  ]
}
